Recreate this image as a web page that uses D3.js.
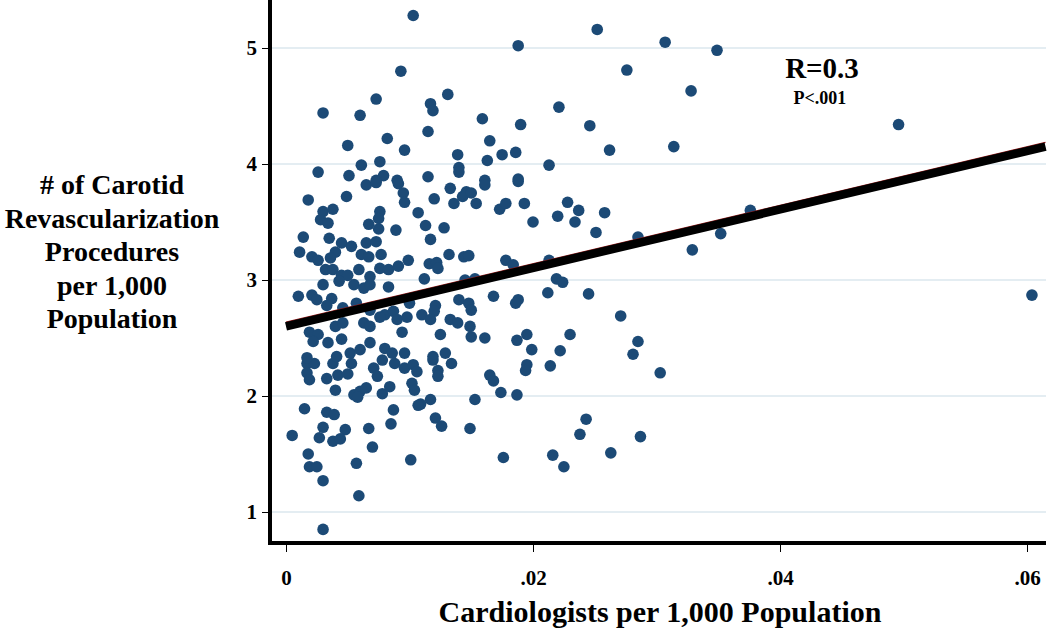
<!DOCTYPE html>
<html>
<head>
<meta charset="utf-8">
<script src="https://cdn.jsdelivr.net/npm/d3@7"></script>
<style>
  html, body { margin: 0; padding: 0; background: #ffffff; }
  svg { display: block; }
  text { font-family: "Liberation Serif", "Times New Roman", serif; font-weight: bold; fill: #000; }
</style>
</head>
<body>
<svg id="chart" width="1050" height="635"></svg>
<script>
// Cardiologists per 1,000 population (x)
const cardiologists = [
  0.0103,0.0093,0.0073,0.0030,0.0060,0.0082,0.0050,0.0096,0.0076,0.0061,
  0.0026,0.0051,0.0079,0.0073,0.0090,0.0188,0.0131,0.0117,0.0119,0.0221,
  0.0159,0.0190,0.0115,0.0165,0.0139,0.0175,0.0186,0.0163,0.0213,0.0140,
  0.0140,0.0115,0.0188,0.0161,0.0252,0.0307,0.0349,0.0276,0.0328,0.0246,
  0.0262,0.0314,0.0496,0.0376,0.0604,0.0228,0.0237,0.0258,0.0234,0.0251,
  0.0285,0.0352,0.0329,0.0245,0.0271,0.0230,0.0285,0.0281,0.0303,0.0243,
  0.0238,0.0287,0.0263,0.0119,0.0123,0.0123,0.0134,0.0165,0.0168,0.0174,
  0.0195,0.0194,0.0214,0.0187,0.0153,0.0117,0.0109,0.0121,0.0126,0.0149,
  0.0176,0.0216,0.0225,0.0017,0.0023,0.0017,0.0019,0.0038,0.0053,0.0071,
  0.0074,0.0078,0.0088,0.0096,0.0103,0.0106,0.0033,0.0042,0.0050,0.0040,
  0.0055,0.0060,0.0065,0.0058,0.0078,0.0084,0.0102,0.0104,0.0107,0.0015,
  0.0033,0.0039,0.0087,0.0085,0.0030,0.0048,0.0067,0.0005,0.0027,0.0038,
  0.0044,0.0070,0.0018,0.0101,0.0019,0.0025,0.0057,0.0030,0.0059,0.0030,
  0.0065,0.0073,0.0091,0.0095,0.0018,0.0049,0.0096,0.0030,0.0038,0.0076,
  0.0075,0.0107,0.0028,0.0034,0.0067,0.0075,0.0089,0.0014,0.0035,0.0045,
  0.0053,0.0065,0.0073,0.0011,0.0021,0.0026,0.0040,0.0036,0.0061,0.0067,
  0.0077,0.0099,0.0032,0.0038,0.0045,0.0050,0.0059,0.0076,0.0083,0.0091,
  0.0068,0.0030,0.0043,0.0055,0.0063,0.0068,0.0083,0.0010,0.0021,0.0025,
  0.0037,0.0033,0.0046,0.0057,0.0068,0.0080,0.0087,0.0100,0.0019,0.0026,
  0.0040,0.0046,0.0063,0.0068,0.0076,0.0090,0.0098,0.0094,0.0022,0.0034,
  0.0045,0.0068,0.0080,0.0086,0.0096,0.0017,0.0041,0.0052,0.0060,0.0133,
  0.0146,0.0143,0.0150,0.0161,0.0188,0.0120,0.0136,0.0154,0.0173,0.0178,
  0.0193,0.0220,0.0200,0.0113,0.0128,0.0117,0.0132,0.0144,0.0148,0.0116,
  0.0122,0.0123,0.0112,0.0145,0.0153,0.0178,0.0184,0.0213,0.0219,0.0224,
  0.0168,0.0212,0.0188,0.0186,0.0140,0.0148,0.0150,0.0121,0.0120,0.0110,
  0.0117,0.0133,0.0139,0.0149,0.0150,0.0125,0.0161,0.0187,0.0195,0.0199,
  0.0222,0.0119,0.0129
];
// # of carotid revascularization procedures per 1,000 population (y)
const procedures = [
  5.28,4.80,4.56,4.44,4.42,4.22,4.16,4.12,4.02,3.99,
  3.93,3.90,3.90,3.86,3.86,5.02,4.60,4.52,4.46,4.49,
  4.39,4.34,4.28,4.20,4.08,4.08,4.10,4.03,3.99,3.97,
  3.93,3.89,3.87,3.86,5.16,5.05,4.98,4.81,4.63,4.33,
  4.12,4.15,4.34,3.60,2.87,3.67,3.60,3.58,3.50,3.41,
  3.37,3.40,3.26,2.88,2.69,2.53,2.47,2.36,2.20,1.80,
  1.67,1.65,1.51,2.31,2.22,2.17,2.28,2.18,2.13,2.03,
  2.27,2.22,2.26,2.01,1.97,1.97,1.93,1.81,1.74,1.72,
  1.47,1.49,1.39,2.28,2.28,2.20,2.14,2.28,2.28,2.24,
  2.17,2.31,2.28,2.24,2.27,2.21,2.15,2.18,2.19,2.05,
  2.01,2.04,2.07,1.99,2.02,2.08,2.11,2.05,1.92,1.89,
  1.86,1.84,1.88,1.76,1.73,1.71,1.72,1.66,1.64,1.61,
  1.63,1.56,1.50,1.45,1.39,1.39,1.42,1.27,1.14,0.85,
  3.82,3.84,3.83,3.75,3.69,3.72,3.67,3.59,3.61,3.59,
  3.53,3.58,3.52,3.49,3.48,3.44,3.43,3.37,3.36,3.32,
  3.29,3.32,3.33,3.24,3.20,3.17,3.24,3.19,3.22,3.20,
  3.22,3.17,3.09,3.09,3.04,3.04,3.09,3.10,3.09,3.12,
  3.03,2.96,2.99,2.96,2.93,2.96,2.94,2.86,2.87,2.83,
  2.84,2.78,2.76,2.80,2.74,2.70,2.73,2.80,2.55,2.53,
  2.60,2.63,2.63,2.60,2.68,2.66,2.68,2.55,2.47,2.46,
  2.49,2.46,2.41,2.37,2.37,2.33,2.34,2.37,2.40,3.79,
  3.76,3.72,3.75,3.82,3.85,3.70,3.66,3.66,3.61,3.66,
  3.66,3.55,3.50,3.47,3.45,3.35,3.22,3.20,3.21,3.14,
  3.15,3.10,3.01,3.00,3.01,3.17,3.13,3.17,3.01,2.98,
  2.86,2.89,2.83,2.80,2.83,2.80,2.74,2.78,2.73,2.70,
  2.66,2.66,2.63,2.60,2.51,2.53,2.50,2.48,2.53,2.40,
  2.39,2.34,2.37
];
const xTicks = [0, 0.02, 0.04, 0.06];
const xTickLabels = ["0", ".02", ".04", ".06"];
const yTicks = [1, 2, 3, 4, 5];
const fitIntercept = 2.60;
const fitSlope = 25.2;
const fitRange = [0, 0.0615];
const yTitleLines = ["# of Carotid", "Revascularization", "Procedures", "per 1,000", "Population"];
const xTitle = "Cardiologists per 1,000 Population";
const statR = "R=0.3";
const statP = "P<.001";

const svg = d3.select("#chart");
svg.append("rect").attr("width", 1050).attr("height", 635).attr("fill", "#fff");

const x = d3.scaleLinear().domain([0, 0.06]).range([286, 1027]);
const y = d3.scaleLinear().domain([1, 5]).range([512, 48]);

const axisY = 543;   // bottom axis line
const axisX = 270;   // left axis line
const rightEdge = 1046;

// gridlines
svg.append("g").selectAll("line").data(yTicks).join("line")
  .attr("x1", axisX + 2).attr("x2", rightEdge)
  .attr("y1", d => y(d)).attr("y2", d => y(d))
  .attr("stroke", "#e4edf2").attr("stroke-width", 2);

// points
const pts = cardiologists.map((v, i) => [v, procedures[i]]);
svg.append("g").selectAll("circle").data(pts).join("circle")
  .attr("cx", d => x(d[0])).attr("cy", d => y(d[1]))
  .attr("r", 5.8).attr("fill", "#1c4a76");

// regression line (thin red edge + thick black)
const fitPts = fitRange.map(v => [v, fitIntercept + fitSlope * v]);
const line = d3.line().x(d => x(d[0])).y(d => y(d[1]));
svg.append("path").datum(fitPts).attr("d", line)
  .attr("transform", "translate(0,-4.2)")
  .attr("stroke", "#9b1c1c").attr("stroke-width", 1.2).attr("fill", "none");
svg.append("path").datum(fitPts).attr("d", line)
  .attr("stroke", "#000").attr("stroke-width", 8.5).attr("fill", "none");

// axes
const gx = svg.append("g").attr("transform", `translate(0,${axisY + 2})`)
  .call(d3.axisBottom(x).tickValues(xTicks).tickFormat((d, i) => xTickLabels[i]).tickSize(7).tickPadding(18));
gx.select(".domain").remove();
gx.selectAll("line").attr("stroke", "#000").attr("stroke-width", 1);
gx.selectAll("text").attr("font-size", 21).attr("font-family", "Liberation Serif").attr("font-weight", "bold").attr("fill", "#000");

const gy = svg.append("g").attr("transform", `translate(${axisX - 2},0)`)
  .call(d3.axisLeft(y).tickValues(yTicks).tickFormat(d3.format("d")).tickSize(6).tickPadding(5));
gy.select(".domain").remove();
gy.selectAll("line").attr("stroke", "#000").attr("stroke-width", 1);
gy.selectAll("text").attr("font-size", 21).attr("font-family", "Liberation Serif").attr("font-weight", "bold").attr("fill", "#000");

svg.append("line").attr("x1", axisX).attr("x2", axisX).attr("y1", 0).attr("y2", axisY + 2)
  .attr("stroke", "#000").attr("stroke-width", 4);
svg.append("line").attr("x1", axisX - 2).attr("x2", rightEdge).attr("y1", axisY).attr("y2", axisY)
  .attr("stroke", "#000").attr("stroke-width", 4);

// titles
svg.append("text").attr("x", 660).attr("y", 622).attr("text-anchor", "middle")
  .attr("font-size", 30).text(xTitle);

svg.append("g").selectAll("text").data(yTitleLines).join("text")
  .attr("x", 112).attr("y", (d, i) => 194 + i * 33.5).attr("text-anchor", "middle")
  .attr("font-size", 28).text(d => d);

svg.append("text").attr("x", 822).attr("y", 78).attr("text-anchor", "middle")
  .attr("font-size", 29).text(statR);
svg.append("text").attr("x", 820).attr("y", 104).attr("text-anchor", "middle")
  .attr("font-size", 18).text(statP);
</script>
</body>
</html>
